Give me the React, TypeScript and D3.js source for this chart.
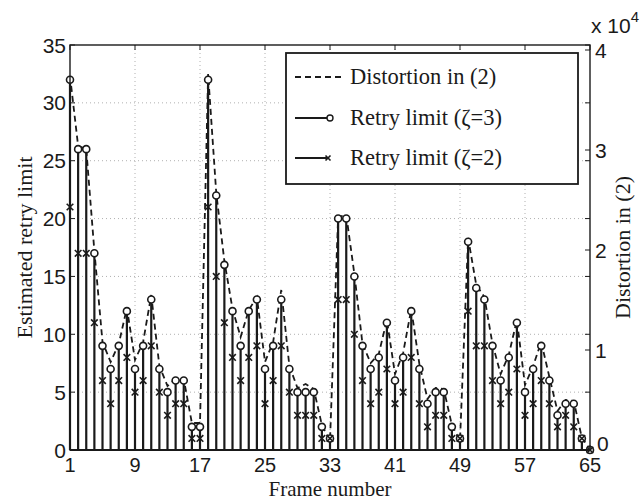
import * as d3 from "d3";
import React from "react";

// frame numbers 1..65
const frames = d3.range(1, 66);

// estimated retry limit, zeta = 3 (circle stems)
const retryZeta3 = [
  32, 26, 26, 17, 9, 7, 9, 12, 7, 9, 13, 7, 5, 6, 6, 2, 2,
  32, 22, 16, 12, 9, 12, 13, 7, 9, 13, 7, 5, 5, 5, 2, 1,
  20, 20, 15, 9, 7, 8, 11, 6, 8, 12, 7, 4, 5, 5, 2, 1,
  18, 14, 13, 9, 6, 8, 11, 5, 7, 9, 6, 3, 4, 4, 1, 0,
];

// estimated retry limit, zeta = 2 (x stems)
const retryZeta2 = [
  21, 17, 17, 11, 6, 4, 6, 8, 5, 6, 9, 5, 3, 4, 4, 1, 1,
  21, 15, 11, 8, 6, 8, 9, 4, 6, 9, 5, 3, 3, 3, 1, 1,
  13, 13, 10, 6, 4, 5, 7, 4, 5, 8, 4, 2, 3, 3, 1, 1,
  12, 9, 9, 6, 4, 5, 7, 3, 4, 6, 4, 2, 3, 2, 1, 0,
];

// distortion in (2), units of 10^4
const distortion = [
  3.74, 3.04, 3.01, 1.99, 1.08, 0.88, 1.06, 1.42, 0.9, 1.08, 1.55, 0.84, 0.64, 0.71, 0.71, 0.27, 0.27,
  3.76, 2.57, 1.89, 1.41, 1.13, 1.4, 1.53, 0.88, 1.08, 1.6, 0.84, 0.62, 0.66, 0.61, 0.25, 0.09,
  2.33, 2.35, 1.76, 1.06, 0.87, 0.96, 1.3, 0.76, 0.97, 1.41, 0.86, 0.51, 0.62, 0.61, 0.25, 0.09,
  2.12, 1.65, 1.53, 1.06, 0.76, 0.95, 1.3, 0.65, 0.84, 1.08, 0.73, 0.39, 0.5, 0.49, 0.12, 0.01,
];

const xTicks = [1, 9, 17, 25, 33, 41, 49, 57, 65];
const leftTicks = [0, 5, 10, 15, 20, 25, 30, 35];
const rightTicks = [0, 1, 2, 3, 4];

const W = 641;
const H = 500;
const plot = { left: 70, right: 590, top: 45, bottom: 450 };
const ink = "#1a1a1a";
const sans = "'Liberation Sans', Arial, sans-serif";
const serif = "'Liberation Serif', 'Times New Roman', serif";

function XMark({ cx, cy, s = 3.3 }: { cx: number; cy: number; s?: number }) {
  return (
    <g stroke={ink} strokeWidth={1.6}>
      <line x1={cx - s} y1={cy - s} x2={cx + s} y2={cy + s} />
      <line x1={cx - s} y1={cy + s} x2={cx + s} y2={cy - s} />
    </g>
  );
}

export default function App() {
  const x = d3.scaleLinear().domain([1, 65]).range([plot.left, plot.right]);
  const yL = d3.scaleLinear().domain([0, 35]).range([plot.bottom, plot.top]);
  const yR = d3.scaleLinear().domain([0, 4.05]).range([plot.bottom, plot.top]);

  const distLine = d3
    .line<number>()
    .x((d, i) => x(frames[i]))
    .y((d) => yR(d));

  const tk = 5; // tick length, inward

  // legend
  const lg = { x: 286, y: 53, w: 292, h: 131 };
  const rows = [77, 118, 158];

  return (
    <svg
      width={W}
      height={H}
      style={{ position: "absolute", left: 0, top: 0, background: "#fff" }}
    >
      {/* grid */}
      <g stroke="#b0b0b0" strokeWidth={1} strokeDasharray="1,3">
        {xTicks.slice(1, -1).map((t) => (
          <line key={"gx" + t} x1={x(t)} x2={x(t)} y1={plot.top} y2={plot.bottom} />
        ))}
        {leftTicks.slice(1, -1).map((t) => (
          <line key={"gy" + t} x1={plot.left} x2={plot.right} y1={yL(t)} y2={yL(t)} />
        ))}
      </g>

      {/* stems zeta=3 */}
      <g stroke={ink} strokeWidth={2.2}>
        {frames.map((f, i) => (
          <line key={"s3" + f} x1={x(f)} x2={x(f)} y1={yL(0)} y2={yL(retryZeta3[i])} />
        ))}
      </g>

      {/* distortion */}
      <path
        d={distLine(distortion) || ""}
        fill="none"
        stroke={ink}
        strokeWidth={1.8}
        strokeDasharray="6,4"
      />

      {/* circle markers */}
      <g stroke={ink} strokeWidth={1.6} fill="#fff">
        {frames.map((f, i) => (
          <circle key={"c3" + f} cx={x(f)} cy={yL(retryZeta3[i])} r={3.5} />
        ))}
      </g>

      {/* x markers */}
      {frames.map((f, i) => (
        <XMark key={"x2" + f} cx={x(f)} cy={yL(retryZeta2[i])} />
      ))}

      {/* baseline */}
      <line x1={plot.left} x2={plot.right} y1={yL(0)} y2={yL(0)} stroke={ink} strokeWidth={2.2} />

      {/* axes box */}
      <rect
        x={plot.left}
        y={plot.top}
        width={plot.right - plot.left}
        height={plot.bottom - plot.top}
        fill="none"
        stroke={ink}
        strokeWidth={1.4}
      />

      {/* ticks */}
      <g stroke={ink} strokeWidth={1}>
        {xTicks.map((t) => (
          <g key={"tx" + t}>
            <line x1={x(t)} x2={x(t)} y1={plot.top} y2={plot.top + tk} />
            <line x1={x(t)} x2={x(t)} y1={plot.bottom} y2={plot.bottom - tk} />
          </g>
        ))}
        {leftTicks.map((t) => (
          <g key={"tl" + t}>
            <line x1={plot.left} x2={plot.left + tk} y1={yL(t)} y2={yL(t)} />
            <line x1={plot.right} x2={plot.right - tk} y1={yL(t)} y2={yL(t)} />
          </g>
        ))}
        {rightTicks.map((t) => (
          <line key={"tr" + t} x1={plot.right} x2={plot.right - tk} y1={yR(t)} y2={yR(t)} />
        ))}
      </g>

      {/* tick labels */}
      <g fill={ink} fontFamily={sans} fontSize={21}>
        {leftTicks.map((t) => (
          <text key={"ll" + t} x={plot.left - 4} y={yL(t)} dy="0.36em" textAnchor="end">
            {t}
          </text>
        ))}
        {xTicks.map((t) => (
          <text key={"lx" + t} x={x(t)} y={plot.bottom + 22} fontSize={20} textAnchor="middle">
            {t}
          </text>
        ))}
        {rightTicks.map((t) => (
          <text
            key={"lr" + t}
            x={plot.right + (t === 0 ? 7 : 5)}
            y={yR(t) - (t === 0 ? 7 : 0)}
            dy="0.36em"
            textAnchor="start"
          >
            {t}
          </text>
        ))}
        <text x={plot.right + 1} y={33}>
          x 10
          <tspan fontSize={15} dy={-11}>
            4
          </tspan>
        </text>
      </g>

      {/* axis titles */}
      <g fill={ink} fontFamily={serif} fontSize={22}>
        <text x={(plot.left + plot.right) / 2} y={495.5} fontSize={21} textAnchor="middle">
          Frame number
        </text>
        <text
          transform={`translate(32, ${(plot.top + plot.bottom) / 2}) rotate(-90)`}
          textAnchor="middle"
        >
          Estimated retry limit
        </text>
        <text
          transform={`translate(630, ${(plot.top + plot.bottom) / 2}) rotate(-90)`}
          textAnchor="middle"
        >
          Distortion in (2)
        </text>
      </g>

      {/* legend */}
      <g>
        <rect x={lg.x} y={lg.y} width={lg.w} height={lg.h} fill="#fff" stroke={ink} strokeWidth={1.8} />
        <line x1={295} x2={343} y1={rows[0]} y2={rows[0]} stroke={ink} strokeWidth={1.8} strokeDasharray="6,4" />
        <line x1={295} x2={330} y1={rows[1]} y2={rows[1]} stroke={ink} strokeWidth={2} />
        <circle cx={330} cy={rows[1]} r={3} fill="#fff" stroke={ink} strokeWidth={1.4} />
        <line x1={295} x2={328} y1={rows[2]} y2={rows[2]} stroke={ink} strokeWidth={2} />
        <XMark cx={328} cy={rows[2]} s={2.5} />
        <g fill={ink} fontFamily={serif} fontSize={22.5}>
          <text x={350} y={rows[0]} dy="0.33em">Distortion in (2)</text>
          <text x={350} y={rows[1]} dy="0.33em">Retry limit (ζ=3)</text>
          <text x={350} y={rows[2]} dy="0.33em">Retry limit (ζ=2)</text>
        </g>
      </g>
    </svg>
  );
}
